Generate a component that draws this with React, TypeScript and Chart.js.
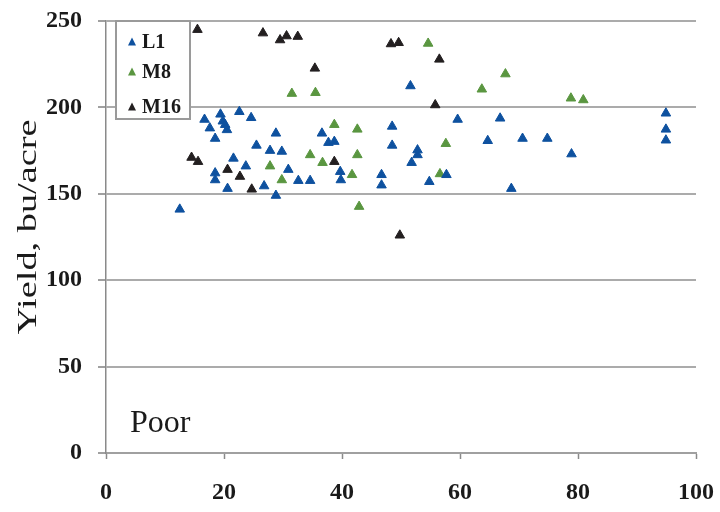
import React, { useEffect, useRef } from 'react';
import { Chart, registerables } from 'chart.js';

Chart.register(...registerables);

const SERIES_NAMES = ['L1', 'M8', 'M16'];

const L1_X = [12.5, 16.7, 17.6, 18.5, 18.5, 18.5, 19.4, 19.8, 20.2, 20.5, 20.6, 21.6, 22.6, 23.7, 24.6, 25.5, 26.8, 27.8, 28.8, 28.8, 29.8, 30.9, 32.6, 34.6, 36.6, 37.7, 38.7, 39.7, 39.8, 46.7, 46.7, 48.5, 48.5, 51.6, 51.8, 52.8, 52.8, 54.8, 57.7, 59.6, 64.7, 66.8, 68.7, 70.6, 74.8, 78.9, 94.9, 94.9, 94.9];
const L1_Y = [141, 193, 188, 182, 162, 158, 196, 192, 190, 187, 153, 170.5, 197.5, 166, 194, 178, 154.5, 175, 185, 149, 174.5, 164, 157.6, 157.6, 185, 179.6, 180.2, 162.8, 158, 161, 155, 189, 178, 212.4, 168, 172.5, 175.3, 157, 161, 193, 180.7, 193.7, 153, 182, 182, 173, 196.6, 187.3, 181];

const M8_X = [27.8, 29.8, 31.5, 34.6, 35.5, 36.7, 38.7, 41.7, 42.6, 42.6, 42.9, 54.6, 56.6, 57.6, 63.7, 67.7, 78.8, 80.9];
const M8_Y = [166, 158, 208, 172.5, 208.5, 168, 190, 161, 187.3, 172.5, 142.6, 237, 161.5, 179, 210.5, 219.3, 205.3, 204.3];

const M16_X = [14.5, 15.5, 15.6, 20.6, 22.7, 24.7, 26.6, 29.5, 30.6, 32.5, 35.4, 38.7, 48.3, 49.6, 49.8, 55.8, 56.5];
const M16_Y = [171, 245, 168.6, 164, 160, 152.6, 243, 239, 241.3, 241, 222.6, 168.6, 236.7, 237.4, 126, 201.4, 227.8];

const X_TICKS = [0, 20, 40, 60, 80, 100];
const Y_TICKS = [0, 50, 100, 150, 200, 250];
const Y_TITLE = 'Yield, bu/acre';
const PANEL_LABEL = 'Poor';

const COLORS = ['#0e519f', '#5a9640', '#231f20'];

const toPoints = (xs: number[], ys: number[]) => xs.map((x, i) => ({ x, y: ys[i] }));

const overlay = {
  id: 'overlay',
  afterDatasetsDraw(chart: any) {
    const ctx = chart.ctx;
    const area = chart.chartArea;
    ctx.save();
    // legend box
    const bx = area.left + 10;
    const by = area.top;
    const bw = 74;
    const bh = 98;
    ctx.fillStyle = '#ffffff';
    ctx.fillRect(bx, by, bw, bh);
    ctx.strokeStyle = '#9a9a9a';
    ctx.lineWidth = 2;
    ctx.strokeRect(bx, by, bw, bh);
    const rowsY = [21, 51, 86];
    chart.data.datasets.forEach((ds: any, i: number) => {
      const cy = by + rowsY[i];
      const cx = bx + 16;
      ctx.fillStyle = ds.backgroundColor;
      ctx.beginPath();
      ctx.moveTo(cx, cy - 4.5);
      ctx.lineTo(cx + 4, cy + 3.5);
      ctx.lineTo(cx - 4, cy + 3.5);
      ctx.closePath();
      ctx.fill();
      ctx.fillStyle = '#1a1a1a';
      ctx.font = 'bold 20px "Liberation Serif", "DejaVu Serif", serif';
      ctx.textBaseline = 'middle';
      ctx.textAlign = 'left';
      ctx.fillText(ds.label, bx + 26, cy + 1);
    });
    // panel label
    ctx.fillStyle = '#1a1a1a';
    ctx.font = '32px "Liberation Serif", "DejaVu Serif", serif';
    ctx.textBaseline = 'alphabetic';
    ctx.fillText(PANEL_LABEL, area.left + 24, area.bottom - 21);
    // y title
    ctx.translate(36, (area.top + area.bottom) / 2 - 10);
    ctx.rotate(-Math.PI / 2);
    ctx.font = '27px "Liberation Serif", "DejaVu Serif", serif';
    const w = ctx.measureText(Y_TITLE).width;
    const s = 215 / w;
    ctx.scale(s, 1);
    ctx.textAlign = 'center';
    ctx.textBaseline = 'alphabetic';
    ctx.fillStyle = '#1a1a1a';
    ctx.fillText(Y_TITLE, 0, 0);
    ctx.restore();
  },
};

export default function App() {
  const ref = useRef<HTMLCanvasElement | null>(null);
  useEffect(() => {
    if (!ref.current) return;
    const tickFont = { family: '"Liberation Serif", "DejaVu Serif", serif', weight: 'bold' as const, size: 24 };
    const mk = (i: number, xs: number[], ys: number[]) => ({
      label: SERIES_NAMES[i],
      data: toPoints(xs, ys),
      backgroundColor: COLORS[i],
      borderColor: COLORS[i],
      borderWidth: 1,
      pointStyle: 'triangle',
      pointRadius: 5.5,
    });
    const chart = new Chart(ref.current, {
      type: 'scatter',
      data: {
        datasets: [mk(0, L1_X, L1_Y), mk(1, M8_X, M8_Y), mk(2, M16_X, M16_Y)],
      },
      options: {
        animation: false,
        responsive: false,
        devicePixelRatio: 1,
        layout: { padding: { top: 21, right: 24, left: 0, bottom: 0 } },
        plugins: { legend: { display: false }, tooltip: { enabled: false } },
        scales: {
          x: {
            type: 'linear',
            min: X_TICKS[0],
            max: X_TICKS[X_TICKS.length - 1],
            afterBuildTicks: (scale: any) => {
              scale.ticks = X_TICKS.map((v) => ({ value: v }));
            },
            afterFit: (scale: any) => {
              scale.height = 59;
              scale.paddingRight = 0;
              scale.paddingLeft = 0;
            },
            grid: { drawOnChartArea: false, drawTicks: true, tickLength: 6, tickColor: '#8a8a8a', tickWidth: 1.5 },
            border: { color: '#a0a0a0', width: 2 },
            ticks: { font: tickFont, color: '#1a1a1a', padding: 19, maxRotation: 0 },
          },
          y: {
            type: 'linear',
            min: Y_TICKS[0],
            max: Y_TICKS[Y_TICKS.length - 1],
            afterBuildTicks: (scale: any) => {
              scale.ticks = Y_TICKS.map((v) => ({ value: v }));
            },
            afterFit: (scale: any) => {
              scale.width = 106;
              scale.paddingTop = 0;
              scale.paddingBottom = 0;
            },
            grid: { color: '#ababab', lineWidth: 2, drawTicks: true, tickLength: 8, tickColor: '#808080', tickWidth: 1.5 },
            border: { color: '#8a8a8a', width: 1.5 },
            ticks: { font: tickFont, color: '#1a1a1a', padding: 16 },
          },
        },
      },
      plugins: [overlay],
    } as any);
    return () => chart.destroy();
  }, []);
  return (
    <div style={{ position: 'absolute', left: 0, top: 0, width: 720, height: 512, background: '#fff' }}>
      <canvas ref={ref} width={720} height={512} style={{ width: 720, height: 512, display: 'block' }} />
    </div>
  );
}
